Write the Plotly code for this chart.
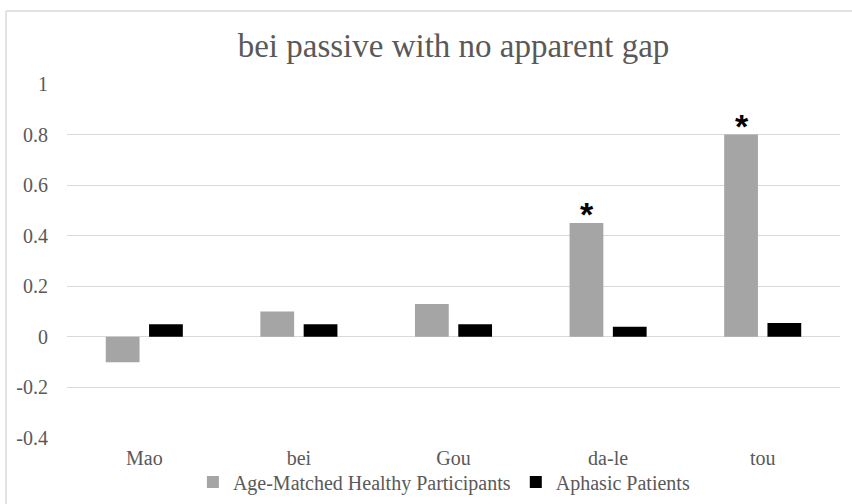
import plotly.graph_objects as go

categories = ["Mao", "bei", "Gou", "da-le", "tou"]
healthy = [-0.10, 0.10, 0.13, 0.45, 0.80]
aphasic = [0.05, 0.05, 0.05, 0.04, 0.055]
significant = [False, False, False, True, True]
y_ticks = [-0.4, -0.2, 0, 0.2, 0.4, 0.6, 0.8, 1]
y_tick_labels = ["-0.4", "-0.2", "0", "0.2", "0.4", "0.6", "0.8", "1"]

W, H = 852, 504
ml, mr, mt, mb = 67, 12, 84, 66
pw, ph = W - ml - mr, H - mt - mb

font_family = "Liberation Serif"
text_col = "#595959"
grid_col = "#D9D9D9"

fig = go.Figure()
fig.add_trace(go.Bar(x=categories, y=healthy, name="Age-Matched Healthy Participants",
                     marker=dict(color="#A5A5A5", line=dict(width=0))))
fig.add_trace(go.Bar(x=categories, y=aphasic, name="Aphasic Patients",
                     marker=dict(color="#000000", line=dict(width=0))))

annotations = []
for c, v, s in zip(categories, healthy, significant):
    if s:
        annotations.append(dict(x=c, y=v, xref="x", yref="y", text="<b>*</b>",
                                showarrow=False, xshift=-21, yshift=-12,
                                yanchor="bottom",
                                font=dict(family="Liberation Sans", size=34, color="#000000")))

def px_x(p):
    return (p - ml) / pw

def px_y(p):
    return (H - mb - p) / ph

shapes = [
    dict(type="line", xref="paper", yref="paper", x0=px_x(6), x1=px_x(W), y0=px_y(11), y1=px_y(11),
         line=dict(color=grid_col, width=1.5), layer="below"),
    dict(type="line", xref="paper", yref="paper", x0=px_x(6), x1=px_x(6), y0=px_y(11), y1=px_y(H),
         line=dict(color=grid_col, width=1.5), layer="below"),
]

fig.update_layout(
    width=W, height=H,
    margin=dict(l=ml, r=mr, t=mt, b=mb, autoexpand=False),
    paper_bgcolor="white", plot_bgcolor="white",
    font=dict(family=font_family, color=text_col, size=20),
    title=dict(text="bei passive with no apparent gap", x=0.5, xanchor="center", xref="paper",
               y=1 - 45 / H, yanchor="middle", yref="container",
               font=dict(size=33, color=text_col, family=font_family)),
    barmode="group", bargap=0.44, bargroupgap=0.22,
    showlegend=True,
    legend=dict(orientation="h", x=0.521, xanchor="center", xref="container",
                y=1 - 482 / H, yanchor="middle", yref="container",
                bgcolor="rgba(0,0,0,0)",
                font=dict(size=20, color=text_col, family=font_family),
                itemwidth=30, traceorder="normal"),
    annotations=annotations,
    shapes=shapes,
)
fig.update_yaxes(range=[-0.4, 1], tickvals=y_ticks, ticktext=y_tick_labels,
                 showgrid=True, gridcolor=grid_col, gridwidth=1,
                 zeroline=True, zerolinecolor=grid_col, zerolinewidth=1,
                 showline=False, ticks="", ticklabelstandoff=18, automargin=False,
                 tickfont=dict(size=20, color=text_col, family=font_family))
fig.update_xaxes(showgrid=False, showline=False, ticks="", automargin=False,
                 ticklabelstandoff=6,
                 tickfont=dict(size=20, color=text_col, family=font_family))

fig.write_html("out.html", config={"displayModeBar": False},
               post_script="document.body.style.margin='0';document.body.style.overflow='hidden';")
